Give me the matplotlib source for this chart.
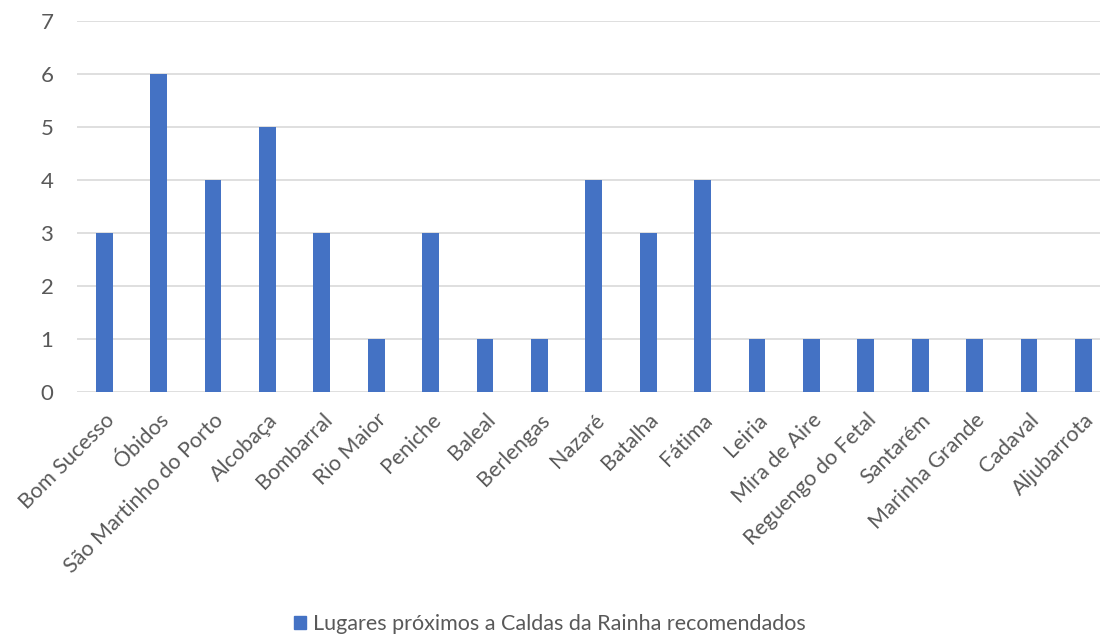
import matplotlib
matplotlib.use('Agg')
import matplotlib.pyplot as plt
import matplotlib.patches as mpatches
import matplotlib.transforms as mtransforms

places = ['Bom Sucesso', 'Óbidos', 'São Martinho do Porto', 'Alcobaça', 'Bombarral',
          'Rio Maior', 'Peniche', 'Baleal', 'Berlengas', 'Nazaré', 'Batalha', 'Fátima',
          'Leiria', 'Mira de Aire', 'Reguengo do Fetal', 'Santarém', 'Marinha Grande',
          'Cadaval', 'Aljubarrota']
counts = [3, 6, 4, 5, 3, 1, 3, 1, 1, 4, 3, 4, 1, 1, 1, 1, 1, 1, 1]
series_name = 'Lugares próximos a Caldas da Rainha recomendados'

bar_color = '#4472C4'
text_color = '#595959'

plt.rcParams['font.family'] = ['Lato', 'DejaVu Sans']

fig = plt.figure(figsize=(11, 6.36), dpi=100)
ax = fig.add_axes([77 / 1100, 1 - 391.7 / 636, 1033.6 / 1100, (391.7 - 21) / 636])

x = range(len(places))
ax.bar(x, counts, width=0.31, color=bar_color, zorder=3)

ax.set_xlim(-0.5, len(places) - 0.5)
ax.set_ylim(0, 7)
ax.set_yticks(range(0, 8))
ax.yaxis.grid(True, color='#D9D9D9', linewidth=1.2, zorder=0)
ax.set_xticks(list(x))
ax.set_xticklabels(places, rotation=45, ha='right', rotation_mode='anchor')

# shift the rotated labels a bit to the right, like the original
offset = mtransforms.ScaledTranslation(5 / 100, 0, fig.dpi_scale_trans)
for lbl in ax.get_xticklabels():
    lbl.set_transform(lbl.get_transform() + offset)

for s in ax.spines.values():
    s.set_visible(False)
ax.tick_params(axis='both', length=0, colors=text_color)
ax.tick_params(axis='x', labelsize=15.5, pad=13)
ax.tick_params(axis='y', labelsize=16, pad=17)

handle = mpatches.Patch(color=bar_color, label=series_name)
fig.legend(handles=[handle], loc='center', bbox_to_anchor=(0.5, 1 - 624 / 636),
           frameon=False, fontsize=15.5, labelcolor=text_color,
           handlelength=0.55, handleheight=0.55, handletextpad=0.3)

fig.savefig('out.png', dpi=100)
